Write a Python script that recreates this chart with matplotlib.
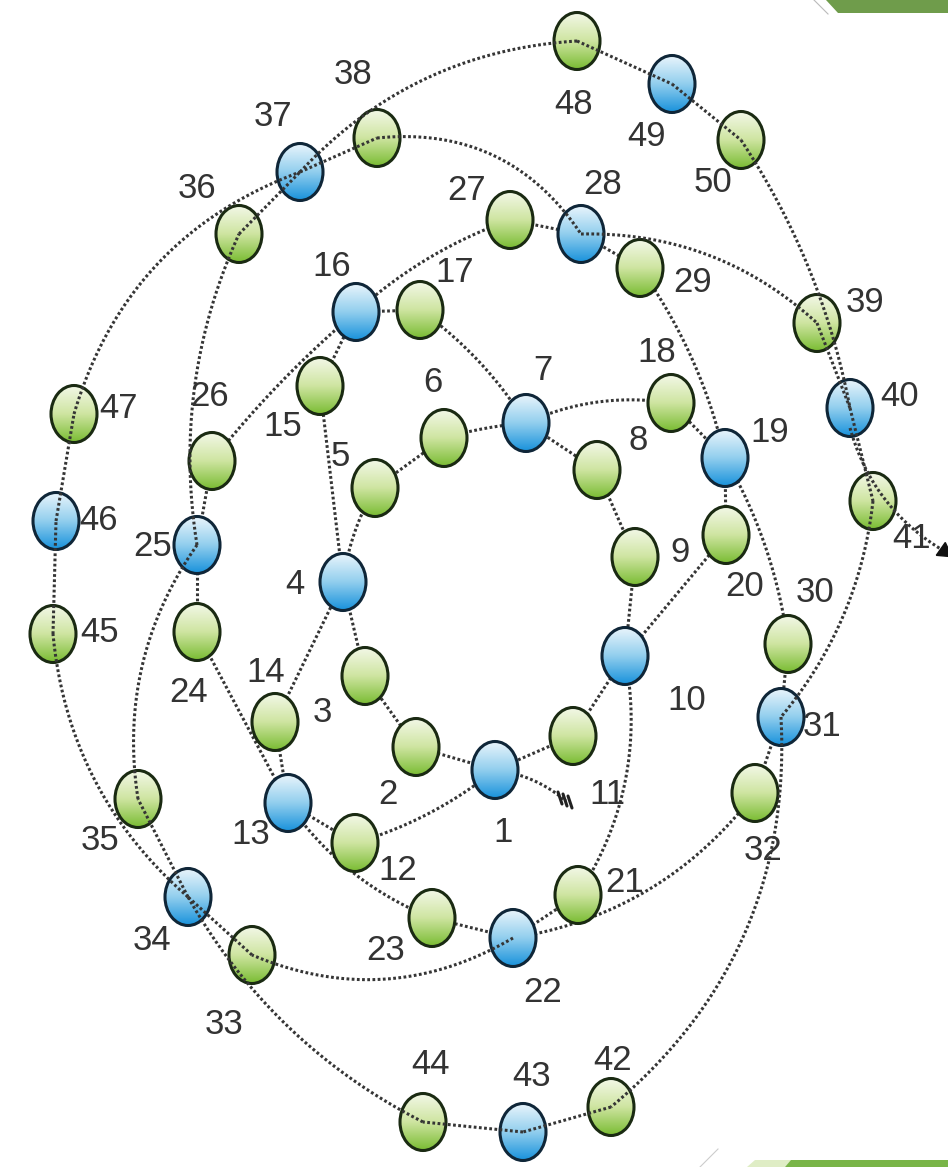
import numpy as np
import matplotlib
matplotlib.use("Agg")
import matplotlib.pyplot as plt
from matplotlib.patches import Ellipse, Polygon
from matplotlib.colors import LinearSegmentedColormap

# ---------------- data ----------------
node_ids = list(range(1, 51))
node_x = [495, 416, 365, 343, 375, 444, 526, 597, 635, 625,
          573, 355, 288, 275, 320, 356, 420, 671, 725, 726,
          578, 513, 432, 197, 197, 212, 510, 581, 640, 788,
          781, 755, 252, 188, 138, 239, 300, 377, 817, 850,
          873, 611, 523, 423, 53, 56, 74, 577, 672, 741]
node_y = [770, 747, 676, 582, 488, 438, 423, 470, 557, 656,
          736, 843, 803, 722, 386, 312, 310, 403, 458, 535,
          895, 938, 918, 632, 545, 461, 220, 234, 268, 644,
          717, 793, 955, 897, 799, 234, 172, 138, 323, 408,
          501, 1107, 1132, 1122, 634, 521, 414, 41, 84, 140]
hub_nodes = [1, 4, 7, 10, 13, 16, 19, 22, 25, 28, 31, 34, 37, 40, 43, 46, 49]

label_x = [503, 388, 322, 295, 340, 433, 543, 638, 680, 687,
           607, 398, 251, 266, 283, 332, 455, 657, 770, 745,
           625, 543, 386, 189, 153, 210, 467, 603, 693, 815,
           822, 763, 224, 152, 100, 197, 273, 353, 865, 900,
           912, 613, 532, 431, 100, 99, 119, 574, 647, 713]
label_y = [833, 795, 712, 585, 457, 383, 371, 440, 553, 700,
           795, 870, 835, 672, 427, 267, 273, 353, 433, 587,
           883, 992, 950, 692, 546, 397, 190, 185, 283, 592,
           727, 850, 1025, 940, 840, 188, 117, 75, 302, 397,
           538, 1061, 1077, 1065, 632, 520, 408, 104, 137, 183]

# dotted links between nodes (from, to), their bend and whether drawn above nodes
edge_from = [1, 2, 3, 4, 5, 6, 7, 8, 9, 10, 11,
             1, 12, 13, 14, 4, 15, 16, 17, 7, 18, 19, 20, 10, 21, 22, 23,
             13, 24, 25, 26, 16, 27, 28, 29, 19, 30, 31, 32, 22, 33, 34, 35,
             25, 36, 37, 38, 28, 39, 40, 41, 31, 42, 43, 44, 34, 45, 46, 47,
             37, 48, 49, 50]
edge_to = [2, 3, 4, 5, 6, 7, 8, 9, 10, 11, 1,
           12, 13, 14, 4, 15, 16, 17, 7, 18, 19, 20, 10, 21, 22, 23, 13,
           24, 25, 26, 16, 27, 28, 29, 19, 30, 31, 32, 22, 33, 34, 35, 25,
           36, 37, 38, 28, 39, 40, 41, 31, 42, 43, 44, 34, 45, 46, 47, 37,
           48, 49, 50, 40]
edge_bend = [0, 0, 0, -0.1, 0, -0.05, 0, 0, 0, 0, 0,
             -0.1, 0, 0, 0, 0, 0, 0, -0.1, -0.15, 0, 0, 0, -0.2, 0, 0, -0.15,
             0, 0, 0, -0.05, -0.1, 0, 0, -0.1, -0.1, 0, 0, -0.2, -0.25, 0, 0, -0.2,
             -0.15, 0, 0, -0.3, -0.2, 0, 0, -0.15, -0.25, 0, 0, -0.15, -0.2, 0, 0, -0.25,
             -0.2, 0, 0, -0.1]
edge_over = [0] * 11 + [0] * 16 + [0] * 12 + [1] * 4 + [1] * 16 + [1] * 4

start_node, start_end = 1, (566, 801)
exit_node, exit_end = 40, (944, 551)

# ---------------- figure ----------------
W, H = 948, 1167
fig = plt.figure(figsize=(W / 100, H / 100), dpi=100)
ax = fig.add_axes([0, 0, 1, 1])
ax.set_axis_off()

NW, NH = 46, 57
line_col = "#353535"
t = np.linspace(0, 1, 200)


def link(p, q, rad, z):
    (x0, y0), (x1, y1) = p, q
    dx, dy = x1 - x0, y1 - y0
    cx = (x0 + x1) / 2 - rad * dy
    cy = (y0 + y1) / 2 + rad * dx
    xs = (1 - t) ** 2 * x0 + 2 * (1 - t) * t * cx + t ** 2 * x1
    ys = (1 - t) ** 2 * y0 + 2 * (1 - t) * t * cy + t ** 2 * y1
    ax.plot(xs, ys, color=line_col, lw=2.2, linestyle=(0, (0.9, 0.8)),
            dash_capstyle="butt", zorder=z, clip_on=False)


for f, tt, r, o in zip(edge_from, edge_to, edge_bend, edge_over):
    p = (node_x[f - 1], node_y[f - 1])
    q = (node_x[tt - 1], node_y[tt - 1])
    link(p, q, r, 6 if o else 1)

# start tail and exit arrow
link((node_x[start_node - 1], node_y[start_node - 1]), start_end, -0.15, 1)
sx, sy = start_end
for k in range(3):
    ax.plot([sx - 8 + k * 5, sx - 4 + k * 5], [sy - 9 + k * 2, sy + 3 + k * 2],
            color="#222222", lw=2.2, zorder=2, solid_capstyle="round")
link((node_x[exit_node - 1], node_y[exit_node - 1] + 20), exit_end, 0.2, 6)
ax.plot([exit_end[0]], [exit_end[1]], marker=(3, 0, -125), ms=13,
        color="#111111", zorder=7, clip_on=False)

green_cmap = LinearSegmentedColormap.from_list("g", ["#f3f8e8", "#cfe5a2", "#7cbd35"])
blue_cmap = LinearSegmentedColormap.from_list("b", ["#eaf5fc", "#93cfee", "#1b93dc"])
grad = np.linspace(0, 1, 80).reshape(-1, 1)

for i, n in enumerate(node_ids):
    x, y = node_x[i], node_y[i]
    hub = n in hub_nodes
    e = Ellipse((x, y), NW, NH, facecolor="none",
                edgecolor="#0f2638" if hub else "#1a2a12", lw=2.2, zorder=4)
    ax.add_patch(e)
    im = ax.imshow(grad, cmap=blue_cmap if hub else green_cmap,
                   extent=(x - NW / 2, x + NW / 2, y + NH / 2, y - NH / 2),
                   origin="upper", aspect="auto", interpolation="bilinear", zorder=3)
    im.set_clip_path(e)
    ax.text(label_x[i], label_y[i], str(n), fontsize=25, color="#333333",
            family="Liberation Sans", ha="center", va="center", zorder=8)

# slide decorations
ax.add_patch(Polygon([(826, 0), (948, 0), (948, 13), (838, 13)], closed=True,
                     facecolor="#6f9c4b", edgecolor="none", zorder=0))
ax.plot([814, 828], [0, 14], color="#bbbbbb", lw=0.8, zorder=0)
ax.add_patch(Polygon([(747, 1167), (755, 1160), (792, 1160), (785, 1167)], closed=True,
                     facecolor="#dfedc5", edgecolor="none", zorder=0))
ax.add_patch(Polygon([(785, 1167), (791, 1160), (948, 1160), (948, 1167)], closed=True,
                     facecolor="#79b548", edgecolor="none", zorder=0))
ax.plot([700, 718], [1167, 1149], color="#cccccc", lw=0.8, zorder=0)

ax.set_xlim(0, W)
ax.set_ylim(H, 0)
fig.savefig("out.png", dpi=100, facecolor="white")
